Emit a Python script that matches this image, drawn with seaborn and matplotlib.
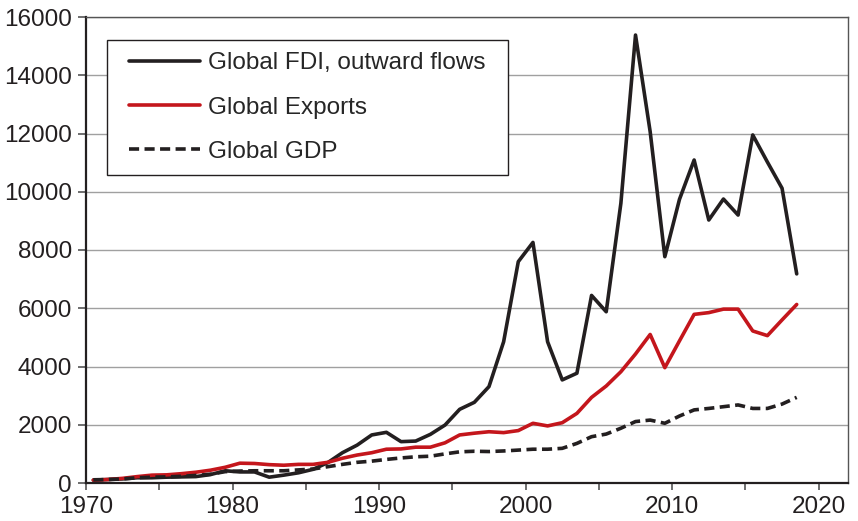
import matplotlib
matplotlib.use("Agg")
import matplotlib.pyplot as plt
import seaborn as sns
import pandas as pd
import numpy as np
from matplotlib.ticker import MultipleLocator
from matplotlib.patches import Rectangle

years = list(range(1970, 2019))

fdi = [100, 120, 140, 180, 180, 200, 210, 220, 290, 420,
       380, 380, 200, 270, 350, 470, 700, 1040, 1300, 1650,
       1740, 1420, 1440, 1670, 1990, 2530, 2770, 3310, 4850, 7600,
       8260, 4850, 3540, 3770, 6440, 5880, 9600, 15380, 12060, 7770,
       9740, 11090, 9030, 9750, 9200, 11950, 11020, 10120, 7180]

exports = [100, 120, 160, 220, 270, 280, 320, 370, 440, 540,
           680, 670, 630, 610, 640, 640, 710, 850, 960, 1040,
           1160, 1170, 1230, 1230, 1380, 1650, 1710, 1760, 1730, 1800,
           2050, 1960, 2070, 2390, 2940, 3330, 3820, 4430, 5100, 3960,
           4880, 5790, 5850, 5970, 5970, 5220, 5060, 5600, 6130]

gdp = [110, 120, 140, 180, 200, 210, 230, 260, 300, 390,
       410, 420, 420, 420, 450, 480, 560, 640, 710, 750,
       810, 860, 900, 920, 1000, 1070, 1090, 1080, 1100, 1130,
       1160, 1160, 1190, 1360, 1590, 1680, 1880, 2110, 2160, 2050,
       2300, 2510, 2560, 2620, 2680, 2560, 2560, 2710, 2940]

labels = ["Global FDI, outward flows", "Global Exports", "Global GDP"]
colors = ["#231f20", "#c4161c", "#231f20"]

df = pd.DataFrame({"year": years, labels[0]: fdi, labels[1]: exports, labels[2]: gdp})
df["x"] = df["year"] + 0.5  # annual values plotted at mid-year

sns.set_style("white")
plt.rcParams["font.family"] = ["Liberation Sans", "DejaVu Sans"]

W, H = 858, 521
fig = plt.figure(figsize=(W / 100, H / 100), dpi=100)
ax = fig.add_axes([86 / W, 1 - 483 / H, (848 - 86) / W, (483 - 17) / H])

styles = ["-", "-", (0, (2.8, 1.5))]
for lab, col, ls in zip(labels, colors, styles):
    sns.lineplot(data=df, x="x", y=lab, ax=ax, color=col, linewidth=2.6,
                 linestyle=ls, label=lab)

ax.set_xlim(1970, 2022)
ax.set_ylim(0, 16000)
ax.xaxis.set_major_locator(MultipleLocator(10))
ax.xaxis.set_minor_locator(MultipleLocator(5))
ax.yaxis.set_major_locator(MultipleLocator(2000))
ax.set_xlabel("")
ax.set_ylabel("")

ax.grid(axis="y", color="#a0a0a0", linewidth=1.0)
ax.grid(axis="x", visible=False)
ax.set_axisbelow(True)

ax.tick_params(axis="both", which="both", direction="out", labelsize=17.5,
               color="#555555", width=1.2, labelcolor="#231f20")
ax.tick_params(axis="x", which="both", length=5, bottom=True, pad=4.5)
ax.tick_params(axis="y", which="major", length=6, left=True, pad=4)

for side in ["left", "bottom"]:
    ax.spines[side].set_color("#231f20")
    ax.spines[side].set_linewidth(1.6)
for side in ["top", "right"]:
    ax.spines[side].set_color("#555555")
    ax.spines[side].set_linewidth(1.0)

# legend: content placed without frame, frame drawn with wider side margins
leg = ax.legend(loc="upper left", bbox_to_anchor=((117 - 86) / 762, (483 - 40) / 466),
                borderaxespad=0, fontsize=17.5, frameon=False,
                handlelength=2.9, handletextpad=0.33, borderpad=0.5,
                labelspacing=0.92)
leg.set_zorder(6)

fig.canvas.draw()
bb = leg.get_window_extent()
x0 = (bb.x0 - 10) / W
x1 = (bb.x1 + 11) / W
y0 = bb.y0 / H
y1 = bb.y1 / H
frame = Rectangle((x0, y0), x1 - x0, y1 - y0, transform=fig.transFigure,
                  facecolor="white", edgecolor="#231f20", linewidth=1.0,
                  zorder=5, clip_on=False)
ax.add_patch(frame)

fig.savefig("out.png", dpi=100)
